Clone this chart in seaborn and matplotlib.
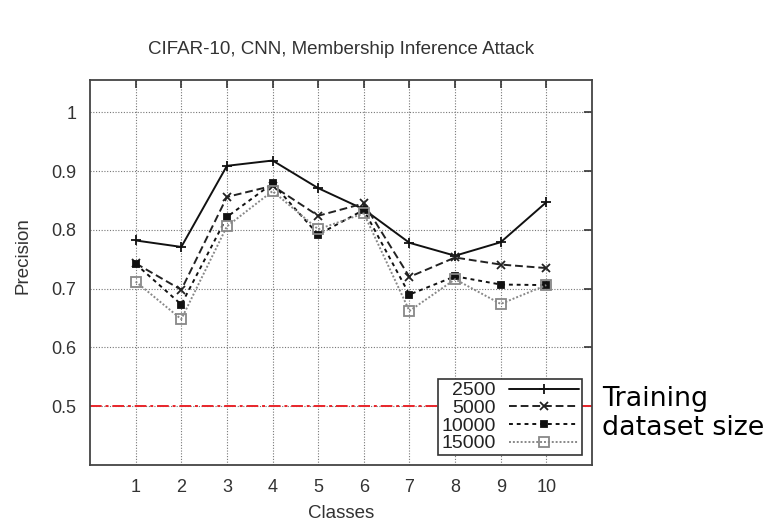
import matplotlib
matplotlib.use("Agg")
import matplotlib.pyplot as plt
import seaborn as sns
import pandas as pd

# Precision of the membership inference attack per CIFAR-10 class
classes = [1, 2, 3, 4, 5, 6, 7, 8, 9, 10]
sizes = ["2500", "5000", "10000", "15000"]
prec_2500 = [0.782, 0.771, 0.909, 0.918, 0.871, 0.835, 0.778, 0.756, 0.779, 0.847]
prec_5000 = [0.743, 0.698, 0.856, 0.875, 0.824, 0.845, 0.720, 0.753, 0.741, 0.735]
prec_10000 = [0.742, 0.673, 0.822, 0.879, 0.792, 0.834, 0.690, 0.721, 0.707, 0.706]
prec_15000 = [0.712, 0.648, 0.806, 0.866, 0.801, 0.828, 0.662, 0.716, 0.674, 0.706]
baseline = 0.5
yticks = [0.5, 0.6, 0.7, 0.8, 0.9, 1.0]
ytick_labels = ["0.5", "0.6", "0.7", "0.8", "0.9", "1"]

df = pd.DataFrame({
    "Classes": classes * 4,
    "Precision": prec_2500 + prec_5000 + prec_10000 + prec_15000,
    "size": [s for s in sizes for _ in classes],
})

sns.set_theme(style="white")
plt.rcParams["font.family"] = ["Liberation Sans", "DejaVu Sans"]

fig = plt.figure(figsize=(7.83, 5.23), dpi=100)
ax = fig.add_axes([0.115, 0.111, 0.641, 0.736])

styles = {
    "2500": dict(color="#111111", ls="-", marker="+", ms=7, mfc="none", lw=1.4),
    "5000": dict(color="#222222", ls=(0, (4, 2)), marker="x", ms=6, mfc="none", lw=1.4),
    "10000": dict(color="#111111", ls=(0, (2, 2)), marker="s", ms=5, mfc="#111111", lw=1.4),
    "15000": dict(color="#888888", ls=(0, (1, 1)), marker="s", ms=7, mfc="none", lw=1.4),
}
for s in sizes:
    st = styles[s]
    sns.lineplot(data=df[df["size"] == s], x="Classes", y="Precision", ax=ax,
                 color=st["color"], linestyle=st["ls"], linewidth=st["lw"],
                 marker=st["marker"], markersize=st["ms"], markerfacecolor=st["mfc"],
                 markeredgecolor=st["color"], markeredgewidth=1.3, label=s,
                 errorbar=None)

ax.axhline(baseline, color="#e8252a", linestyle=(0, (6, 2, 1.5, 2)), linewidth=1.4, zorder=1)

ax.set_xlim(0, 11)
ax.set_ylim(0.4, 1.055)
ax.set_xticks(classes)
ax.set_xticklabels([str(c) for c in classes])
ax.set_yticks(yticks)
ax.set_yticklabels(ytick_labels)
ax.grid(True, color="#777777", linestyle=(0, (1, 1.5)), linewidth=0.8)
ax.set_axisbelow(True)
ax.tick_params(direction="in", length=6, width=1.2, top=True, right=True,
               labelsize=13, colors="#333333", pad=10)
for sp in ax.spines.values():
    sp.set_color("#444444")
    sp.set_linewidth(1.3)

ax.set_title("CIFAR-10, CNN, Membership Inference Attack", fontsize=13.5, color="#333333", pad=19)
ax.set_xlabel("Classes", fontsize=13.5, color="#333333")
ax.set_ylabel("Precision", fontsize=13.5, color="#333333")
ax.xaxis.set_label_coords(0.5, -0.125)
ax.xaxis.label.set_va("center")
ax.yaxis.set_label_coords(-0.133, 0.545)
ax.yaxis.label.set_va("center")

leg = ax.legend(loc="lower right", markerfirst=False, frameon=True, fancybox=False,
                fontsize=14, handlelength=3.6, handletextpad=0.7, borderpad=0.15,
                labelspacing=0.0, borderaxespad=0.5)
leg.get_frame().set_edgecolor("#333333")
leg.get_frame().set_linewidth(1.2)
leg.get_frame().set_alpha(1)
for t in leg.get_texts():
    t.set_ha("right")
    t.set_color("#222222")

fig.text(0.769, 0.21, "Training\ndataset size", fontsize=19.4, family="DejaVu Sans",
         color="black", va="center", ha="left", linespacing=1.15)

fig.savefig("out.png", dpi=100, facecolor="white")
